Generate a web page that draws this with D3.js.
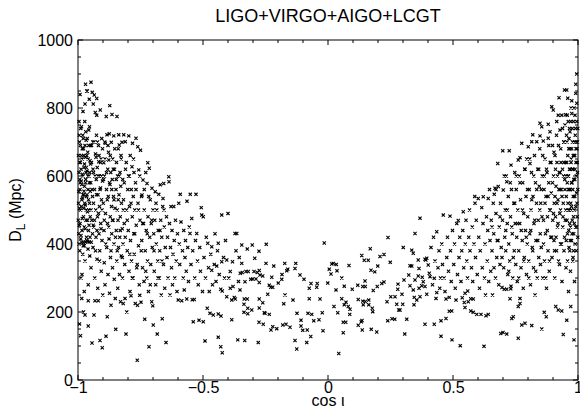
<!DOCTYPE html>
<html><head><meta charset="utf-8">
<script src="https://cdn.jsdelivr.net/npm/d3@7"></script>
<style>html,body{margin:0;padding:0;background:#fff;}svg{display:block;font-family:"Liberation Sans",Arial,sans-serif;}</style>
</head><body><div id="chart"></div>
<script>
const titleText = "LIGO+VIRGO+AIGO+LCGT";
const xTicks = [-1, -0.5, 0, 0.5, 1];
const xTickLabels = ["\u22121", "\u22120.5", "0", "0.5", "1"];
const yTicks = [0, 200, 400, 600, 800, 1000];
const yTickLabels = ["0", "200", "400", "600", "800", "1000"];

// [cos iota, D_L (Mpc)]
const edgeLeft = [[-0.998,520],[-0.996,610],[-0.995,455],[-0.994,700],[-0.993,380],[-0.992,560],[-0.991,640],[-0.99,500],[-0.989,740],[-0.988,425],[-0.987,585],[-0.986,660],[-0.985,530],[-0.984,310],[-0.983,475],[-0.982,605],[-0.981,720],[-0.98,545],[-0.979,395],[-0.978,680],[-0.977,505],[-0.976,625],[-0.975,450],[-0.974,570],[-0.973,760],[-0.972,350],[-0.971,515],[-0.97,655],[-0.969,590],[-0.968,470],[-0.967,705],[-0.966,540],[-0.965,410],[-0.964,615],[-0.963,850],[-0.962,495],[-0.961,670],[-0.96,560],[-0.959,280],[-0.958,440],[-0.957,735],[-0.956,600],[-0.955,826],[-0.954,520],[-0.953,365],[-0.952,645],[-0.951,480],[-0.95,690],[-0.994,165],[-0.99,130],[-0.985,240],[-0.978,200],[-0.97,870],[-0.948,876],[-0.965,850],[-0.972,812],[-0.98,790],[-0.992,840],[-0.996,760],[-0.988,300],[-0.975,260],[-0.985,405],[-0.978,405],[-0.97,406],[-0.962,407],[-0.955,406],[-0.947,405],[-0.959,233],[-0.972,191],[-0.959,159],[-0.997,430],[-0.993,590],[-0.983,680],[-0.977,545],[-0.967,625],[-0.957,500],
[-0.949,580],[-0.948,330],[-0.946,640],[-0.945,470],[-0.944,109],[-0.943,846],[-0.942,540],[-0.941,700],[-0.94,390],[-0.939,812],[-0.938,610],[-0.937,450],[-0.936,191],[-0.935,838],[-0.934,560],[-0.933,300],[-0.932,233],[-0.931,787],[-0.93,665],[-0.929,500],[-0.928,420],[-0.927,590],[-0.926,720],[-0.925,779],[-0.924,355],[-0.923,625],[-0.922,480],[-0.921,270],[-0.92,545],[-0.919,233],[-0.918,690],[-0.917,642],[-0.916,430],[-0.915,600],[-0.914,510],[-0.913,380],[-0.912,116],[-0.911,794],[-0.91,565],[-0.909,460],[-0.908,650],[-0.907,320],[-0.906,530],[-0.905,710],[-0.904,410],[-0.903,95],[-0.902,585],[-0.901,250],[-0.925,828],[-0.939,455],
[-0.899,520],[-0.897,639],[-0.896,440],[-0.895,345],[-0.894,600],[-0.893,700],[-0.892,280],[-0.891,696],[-0.89,490],[-0.888,129],[-0.887,775],[-0.886,560],[-0.885,390],[-0.884,721],[-0.883,186],[-0.882,460],[-0.881,620],[-0.88,310],[-0.879,540],[-0.878,670],[-0.877,647],[-0.876,415],[-0.875,724],[-0.874,255],[-0.873,807],[-0.872,575],[-0.871,480],[-0.87,360],[-0.869,610],[-0.868,220],[-0.867,699],[-0.866,510],[-0.865,430],[-0.864,781],[-0.863,590],[-0.862,330],[-0.861,650],[-0.86,470],[-0.858,540],[-0.857,718],[-0.856,400],[-0.855,296],[-0.854,620],[-0.852,505],[-0.851,240]];

const edgeLeftDense = [[-0.999,470],[-0.998,660],[-0.997,555],[-0.996,400],[-0.995,720],[-0.994,505],[-0.993,640],[-0.992,460],[-0.991,580],[-0.99,690],[-0.989,415],[-0.988,620],[-0.987,510],[-0.986,745],[-0.985,575],[-0.984,440],[-0.983,650],[-0.982,535],[-0.981,370],[-0.98,600],[-0.979,710],[-0.978,480],[-0.977,660],[-0.976,555],[-0.975,395],[-0.974,635],[-0.973,520],[-0.972,690],[-0.971,445],[-0.97,580],[-0.969,730],[-0.968,610],[-0.967,500],[-0.966,420],[-0.965,660],[-0.964,545],[-0.963,710],[-0.962,470],[-0.961,600],[-0.96,385],[-0.959,650],[-0.958,530],[-0.957,690],[-0.956,455],[-0.955,580],[-0.954,745],[-0.953,610],[-0.952,420],[-0.951,555],[-0.95,635],
[-0.948,500],[-0.946,690],[-0.944,560],[-0.942,430],[-0.94,620],[-0.938,520],[-0.936,700],[-0.934,470],[-0.932,600],[-0.93,380],[-0.928,655],[-0.926,545],[-0.924,440],[-0.922,700],[-0.92,600],[-0.918,490],[-0.916,660],[-0.914,350],[-0.912,560],[-0.91,640],[-0.908,445],[-0.906,600],[-0.904,500],[-0.902,680],
[-0.898,590],[-0.895,470],[-0.892,650],[-0.889,400],[-0.886,610],[-0.883,530],[-0.88,690],[-0.877,450],[-0.874,580],[-0.871,660],[-0.868,380],[-0.865,560],[-0.862,470],[-0.859,620],[-0.856,530],[-0.853,680],[-0.85,420],
[-0.847,590],[-0.843,380],[-0.839,530],[-0.835,600],[-0.831,440],[-0.827,650],[-0.823,360],[-0.819,500],[-0.815,580],[-0.811,420],[-0.807,640],[-0.803,470],
[-0.798,600],[-0.793,370],[-0.788,520],[-0.783,300],[-0.778,650],[-0.773,430],[-0.768,560],[-0.763,340],[-0.758,500],[-0.753,600],
[-0.747,380],[-0.741,460],[-0.735,560],[-0.729,320],[-0.723,430],[-0.717,540],[-0.711,280],[-0.705,470],
[-0.696,380],[-0.688,520],[-0.68,300],[-0.672,440],[-0.664,350],[-0.656,500]];

const wingLeft = [[-0.849,149],[-0.848,560],[-0.847,440],[-0.846,640],[-0.845,350],[-0.844,775],[-0.843,500],[-0.842,600],[-0.841,270],[-0.84,470],[-0.839,680],[-0.838,390],[-0.837,721],[-0.836,545],[-0.835,691],[-0.834,310],[-0.833,420],[-0.832,610],[-0.831,480],[-0.83,230],[-0.829,570],[-0.828,660],[-0.827,365],[-0.826,520],[-0.824,699],[-0.823,445],[-0.822,300],[-0.821,590],[-0.82,400],[-0.819,225],[-0.818,530],[-0.817,721],[-0.815,460],[-0.813,340],[-0.812,240],[-0.811,701],[-0.81,620],[-0.808,135],[-0.806,500],[-0.805,200],[-0.803,380],[-0.801,560],
[-0.799,440],[-0.797,718],[-0.796,320],[-0.795,600],[-0.794,510],[-0.792,260],[-0.791,660],[-0.79,410],[-0.788,248],[-0.787,560],[-0.786,350],[-0.784,627],[-0.783,480],[-0.782,696],[-0.78,300],[-0.779,540],[-0.777,430],[-0.776,610],[-0.775,370],[-0.773,500],[-0.771,225],[-0.77,580],[-0.768,711],[-0.767,455],[-0.765,330],[-0.763,58],[-0.762,220],[-0.761,686],[-0.76,520],[-0.758,395],[-0.757,618],[-0.755,280],[-0.753,249],[-0.752,470],[-0.75,676],
[-0.748,229],[-0.746,540],[-0.745,410],[-0.744,544],[-0.742,330],[-0.74,588],[-0.738,460],[-0.736,290],[-0.735,500],[-0.733,179],[-0.731,380],[-0.729,610],[-0.727,440],[-0.725,300],[-0.724,578],[-0.722,350],[-0.721,639],[-0.72,480],[-0.718,260],[-0.716,98],[-0.715,623],[-0.713,420],[-0.711,530],[-0.709,340],[-0.707,460],[-0.705,230],[-0.704,564],[-0.703,390],[-0.701,218],[-0.7,500],
[-0.699,162],[-0.697,430],[-0.695,320],[-0.693,470],[-0.691,554],[-0.689,280],[-0.687,400],[-0.685,500],[-0.683,135],[-0.681,350],[-0.679,440],[-0.677,546],[-0.675,300],[-0.673,380],[-0.671,574],[-0.669,470],[-0.667,250],[-0.665,420],[-0.663,180],[-0.661,510],[-0.66,534],[-0.658,340],[-0.657,578],[-0.655,450],[-0.653,270],[-0.651,390],
[-0.648,110],[-0.646,480],[-0.644,360],[-0.642,420],[-0.64,300],[-0.637,598],[-0.636,583],[-0.634,460],[-0.632,250],[-0.63,390],[-0.628,510],[-0.626,330],[-0.624,440],[-0.622,280],[-0.62,370],[-0.617,510],[-0.615,410],[-0.613,300],[-0.61,470],[-0.607,350],[-0.604,260],[-0.602,430],
[-0.599,235],[-0.597,520],[-0.595,400],[-0.593,340],[-0.591,546],[-0.588,465],[-0.585,233],[-0.582,380],[-0.579,300],[-0.577,440],[-0.575,265],[-0.572,360],[-0.57,410],[-0.567,320],[-0.565,238],[-0.564,526],[-0.561,390],[-0.558,290],[-0.555,450],[-0.552,431],
[-0.551,546],[-0.548,340],[-0.545,475],[-0.543,236],[-0.541,380],[-0.539,171],[-0.535,237],[-0.533,300],[-0.53,410],[-0.528,546],[-0.525,431],[-0.522,350],[-0.519,280],[-0.516,176],[-0.513,390],[-0.51,320],[-0.507,507],[-0.505,485],[-0.502,260],
[-0.499,171],[-0.499,480],[-0.496,360],[-0.492,115],[-0.49,300],[-0.487,420],[-0.483,211],[-0.481,402],[-0.478,330],[-0.475,260],[-0.472,196],[-0.469,370],[-0.465,392],[-0.465,323],[-0.462,280],[-0.459,191],[-0.455,340],[-0.452,430],
[-0.448,290],[-0.445,335],[-0.442,380],[-0.439,194],[-0.439,126],[-0.439,402],[-0.435,310],[-0.429,98],[-0.429,267],[-0.428,188],[-0.425,485],[-0.425,348],[-0.423,80],[-0.423,262],[-0.418,360],[-0.414,300],[-0.41,410],[-0.405,245],[-0.405,353],[-0.4,490],
[-0.397,300],[-0.391,270],[-0.391,319],[-0.385,177],[-0.385,235],[-0.382,348],[-0.38,275],[-0.375,243],[-0.372,431],[-0.371,238],[-0.368,380],[-0.365,431],[-0.361,118],[-0.358,290],[-0.355,360],[-0.351,314],[-0.345,343]];

const centre = [[-0.345,397],[-0.323,385],[-0.303,397],[-0.276,379],[-0.247,399],[-0.293,358],[-0.343,316],[-0.328,319],[-0.319,319],[-0.332,289],[-0.309,296],[-0.296,319],[-0.283,316],[-0.275,322],[-0.301,297],[-0.288,297],[-0.272,309],[-0.261,306],[-0.248,343],[-0.275,287],[-0.352,265],[-0.335,238],[-0.323,238],[-0.275,238],[-0.261,227],[-0.336,223],[-0.321,211],[-0.305,206],[-0.336,199],[-0.321,195],[-0.255,198],[-0.252,196],[-0.235,193],[-0.241,252],[-0.235,279],[-0.275,212],[-0.276,170],[-0.259,164],[-0.228,147],[-0.221,157],[-0.205,151],[-0.181,162],[-0.168,164],[-0.152,155],[-0.333,116],[-0.279,110],[-0.217,335],[-0.225,302],[-0.229,273],[-0.221,273],[-0.199,285],[-0.185,296],[-0.184,310],[-0.165,321],[-0.161,326],[-0.173,343],[-0.129,343],[-0.132,328],[-0.112,309],[-0.096,296],[-0.172,250],[-0.177,224],[-0.14,235],[-0.124,196],[-0.108,176],[-0.108,159],[-0.101,146],[-0.083,147],[-0.069,128],[-0.085,110],[-0.132,116],[-0.125,91],[-0.08,196],[-0.065,193],[-0.057,174],[-0.036,177],[-0.075,270],[-0.045,273],[-0.043,284],[-0.068,284],[-0.075,239],[-0.032,238],[-0.023,198],[-0.02,145],[-0.015,403],[-0.001,285],[0.005,326],[0.015,341],[0.021,343],[0.033,340],[0.036,321],[0.012,312],[0.032,265],[0.055,300],[0.055,239],[0.024,216],[0.039,198],[0.072,229],[0.065,221],[0.081,216],[0.088,208],[0.087,193],[0.061,170],[0.071,170],[0.061,139],[0.043,78],[0.065,276],[0.084,337],[0.097,267],[0.119,279],[0.121,237],[0.135,366],[0.145,352],[0.161,352],[0.169,386],[0.139,275],[0.149,275],[0.148,291],[0.139,232],[0.149,231],[0.163,235],[0.141,221],[0.163,221],[0.133,171],[0.121,161],[0.136,175],[0.137,147],[0.173,149],[0.195,141],[0.177,211],[0.179,201],[0.172,323],[0.187,318],[0.199,335],[0.181,263],[0.197,275],[0.208,363],[0.224,369],[0.249,346],[0.224,288],[0.215,284],[0.24,419],[0.236,230],[0.239,174],[0.256,180],[0.267,179],[0.251,245],[0.268,245],[0.275,223],[0.283,206],[0.288,206],[0.299,223],[0.279,267],[0.28,282],[0.296,252],[0.301,390],[0.304,294],[0.307,135],[0.315,179],[0.323,309],[0.328,336]];

const wingRight = [[0.328,277],[0.335,335],[0.335,382],[0.341,265],[0.341,373],[0.344,221],[0.345,243],[0.348,294],[0.348,431],[0.355,235],[0.361,306],[0.361,353],[0.364,270],[0.364,328],[0.368,245],[0.368,476],[0.375,277],[0.377,302],[0.381,289],[0.388,164],[0.388,275],[0.388,355],[0.391,353],[0.395,252],[0.395,358],
[0.401,338],[0.405,314],[0.408,304],[0.412,390],[0.418,280],[0.422,420],[0.425,164],[0.425,299],[0.428,350],[0.432,240],[0.435,257],[0.435,436],[0.44,330],[0.444,380],[0.447,270],[0.45,300],
[0.452,174],[0.452,129],[0.455,400],[0.458,340],[0.461,485],[0.464,300],[0.468,260],[0.472,181],[0.472,238],[0.475,360],[0.478,420],[0.482,320],[0.485,202],[0.485,243],[0.488,482],[0.49,380],[0.493,290],[0.495,203],[0.496,118],[0.498,440],
[0.503,340],[0.506,400],[0.509,270],[0.512,235],[0.515,460],[0.518,310],[0.521,469],[0.524,360],[0.527,420],[0.529,101],[0.532,290],[0.535,380],[0.537,242],[0.539,440],[0.541,495],[0.543,330],[0.545,228],[0.548,213],[0.548,255],[0.549,400],
[0.552,470],[0.555,350],[0.558,300],[0.559,262],[0.561,230],[0.563,420],[0.566,500],[0.568,380],[0.571,203],[0.571,239],[0.574,330],[0.577,450],[0.579,290],[0.581,199],[0.581,238],[0.584,400],[0.587,540],[0.588,520],[0.59,360],[0.593,470],[0.595,193],[0.597,310],
[0.601,534],[0.603,420],[0.606,270],[0.609,380],[0.612,193],[0.615,507],[0.617,330],[0.62,460],[0.621,539],[0.624,99],[0.626,300],[0.628,400],[0.63,250],[0.632,189],[0.634,480],[0.637,350],[0.639,440],[0.641,193],[0.641,534],[0.643,290],[0.646,560],[0.648,410],
[0.651,320],[0.653,470],[0.656,380],[0.658,250],[0.661,520],[0.663,430],[0.665,546],[0.668,564],[0.67,300],[0.672,490],[0.675,360],[0.677,410],[0.679,637],[0.681,569],[0.683,280],[0.685,450],[0.688,340],[0.69,520],[0.691,137],[0.693,390],[0.696,272],[0.698,470],[0.699,674],[0.7,140],
[0.701,559],[0.703,330],[0.705,267],[0.707,420],[0.709,500],[0.711,380],[0.713,600],[0.715,135],[0.715,267],[0.715,583],[0.717,460],[0.719,310],[0.721,540],[0.723,400],[0.725,674],[0.727,350],[0.728,239],[0.73,480],[0.731,268],[0.732,276],[0.732,632],[0.734,560],[0.735,181],[0.737,430],[0.739,300],[0.741,186],[0.743,520],[0.745,380],[0.747,610],[0.749,460],
[0.751,340],[0.753,560],[0.755,420],[0.757,290],[0.759,500],[0.761,123],[0.761,216],[0.761,647],[0.763,380],[0.765,600],[0.767,460],[0.768,225],[0.768,240],[0.768,654],[0.77,530],[0.772,330],[0.775,696],[0.775,162],[0.777,410],[0.779,580],[0.781,270],[0.783,490],[0.785,360],[0.787,620],[0.788,167],[0.79,440],[0.792,540],[0.794,310],[0.795,650],[0.797,400],[0.799,480],
[0.801,686],[0.803,350],[0.805,560],[0.807,430],[0.808,637],[0.81,280],[0.812,500],[0.814,610],[0.815,160],[0.815,701],[0.817,390],[0.819,721],[0.82,540],[0.822,330],[0.824,460],[0.826,660],[0.828,250],[0.83,580],[0.832,410],[0.834,520],[0.835,701],[0.837,300],[0.839,620],[0.841,470],[0.843,360],[0.845,570],[0.847,680],[0.848,718],[0.849,430],[0.848,755]];

const edgeRight = [[0.851,520],[0.853,390],[0.855,150],[0.855,745],[0.857,600],[0.859,300],[0.861,703],[0.862,470],[0.864,560],[0.865,199],[0.866,350],[0.868,650],[0.87,430],[0.872,540],[0.873,186],[0.874,270],[0.876,610],[0.878,480],[0.88,380],[0.881,711],[0.881,752],[0.883,580],[0.885,320],[0.887,500],[0.888,730],[0.889,640],[0.891,420],[0.893,550],[0.895,804],[0.896,360],[0.898,690],[0.899,470],
[0.901,794],[0.902,600],[0.904,410],[0.905,520],[0.907,300],[0.908,660],[0.91,480],[0.911,216],[0.912,570],[0.914,380],[0.915,760],[0.916,640],[0.918,450],[0.92,530],[0.921,206],[0.921,779],[0.922,350],[0.924,830],[0.925,610],[0.927,490],[0.928,735],[0.93,400],[0.931,680],[0.933,560],[0.935,203],[0.935,779],[0.936,290],[0.938,620],[0.939,450],[0.941,134],[0.941,520],[0.943,700],[0.944,380],[0.946,853],[0.947,590],[0.948,750],[0.949,470],
[0.951,640],[0.952,330],[0.953,540],[0.955,176],[0.955,853],[0.956,700],[0.957,779],[0.958,430],[0.959,829],[0.96,600],[0.961,500],[0.962,260],[0.963,680],[0.964,390],[0.965,560],[0.966,740],[0.967,460],[0.968,730],[0.969,620],[0.97,320],[0.971,216],[0.971,520],[0.972,800],[0.973,650],[0.974,410],[0.975,821],[0.975,784],[0.976,580],[0.977,470],[0.978,700],[0.979,350],[0.98,620],[0.981,540],[0.982,760],[0.983,430],[0.984,118],[0.984,660],[0.985,500],[0.986,290],[0.987,590],[0.988,779],[0.989,720],[0.99,450],[0.991,843],[0.991,870],[0.992,640],[0.993,380],[0.994,550],[0.995,814],[0.995,900],[0.996,680],[0.997,480],[0.998,610],[0.999,740],[0.999,420],[0.962,560],[0.974,510],[0.987,660],[0.993,700],[0.969,410],[0.982,380],[0.944,640],[0.928,560]];

const edgeRightDense = [[0.999,560],[0.998,700],[0.997,640],[0.996,520],[0.995,760],[0.994,450],[0.993,600],[0.992,680],[0.991,510],[0.99,740],[0.989,400],[0.988,620],[0.987,540],[0.986,700],[0.985,460],[0.984,800],[0.983,590],[0.982,480],[0.981,660],[0.98,360],[0.979,560],[0.978,620],[0.977,740],[0.976,430],[0.975,680],[0.974,580],[0.973,500],[0.972,640],[0.971,760],[0.97,450],[0.969,560],[0.968,680],[0.967,380],[0.966,620],[0.965,500],[0.964,710],[0.963,440],[0.962,600],[0.961,760],[0.96,520],[0.959,660],[0.958,350],[0.957,580],[0.956,470],[0.955,640],[0.954,720],[0.953,410],[0.952,600],[0.951,500],[0.95,780],
[0.948,560],[0.946,420],[0.944,700],[0.942,600],[0.94,480],[0.938,740],[0.936,540],[0.934,400],[0.932,640],[0.93,500],[0.928,610],[0.926,340],[0.924,560],[0.922,690],[0.92,460],[0.918,600],[0.916,520],[0.914,720],[0.912,420],[0.91,620],[0.908,540],[0.906,380],[0.904,670],[0.902,490],
[0.898,580],[0.895,420],[0.892,640],[0.889,500],[0.886,350],[0.883,690],[0.88,540],[0.877,440],[0.874,620],[0.871,300],[0.868,520],[0.865,600],[0.862,400],[0.859,660],[0.856,480],[0.853,560],[0.85,340],
[0.847,500],[0.843,620],[0.839,410],[0.835,560],[0.831,320],[0.827,470],[0.823,600],[0.819,380],[0.815,530],[0.811,440],[0.807,650],[0.803,300],
[0.798,560],[0.793,420],[0.788,620],[0.783,350],[0.778,500],[0.773,440],[0.768,580],[0.763,300],[0.758,460],[0.753,600],
[0.747,520],[0.741,360],[0.735,450],[0.729,580],[0.723,320],[0.717,500],[0.711,440],[0.705,600],
[0.696,360],[0.688,480],[0.68,410],[0.672,560],[0.664,330],[0.656,450]];

const points = [].concat(edgeLeft, edgeLeftDense, wingLeft, centre, wingRight, edgeRight, edgeRightDense);

const W = 580, H = 410;
const m = {left: 78, right: 578, top: 40, bottom: 380};
const FONT = '"Liberation Sans",Arial,sans-serif';

const svg = d3.select("#chart").append("svg").attr("width", W).attr("height", H);

const x = d3.scaleLinear().domain([-1, 1]).range([m.left, m.right]);
const y = d3.scaleLinear().domain([0, 1000]).range([m.bottom, m.top]);

// points
const mk = 1.6;
svg.append("g").selectAll("path").data(points).join("path")
  .attr("transform", d => `translate(${x(d[0])},${y(d[1])})`)
  .attr("d", `M${-mk},${-mk}L${mk},${mk}M${-mk},${mk}L${mk},${-mk}`)
  .attr("stroke", "#000").attr("stroke-width", 1.1).attr("fill", "none");

// frame
svg.append("rect").attr("x", m.left).attr("y", m.top)
  .attr("width", m.right - m.left).attr("height", m.bottom - m.top)
  .attr("fill", "none").attr("stroke", "#000").attr("stroke-width", 1);

// ticks (inward, all four sides)
const xMinor = d3.range(-10, 11).map(i => i / 10);
const yMinor = d3.range(0, 21).map(i => i * 50);
const tk = svg.append("g").attr("stroke", "#000").attr("stroke-width", 1);
xMinor.forEach(v => {
  const major = xTicks.some(t => Math.abs(t - v) < 1e-9);
  const L = major ? 5 : 3;
  tk.append("line").attr("x1", x(v)).attr("x2", x(v)).attr("y1", m.bottom).attr("y2", m.bottom - L);
  tk.append("line").attr("x1", x(v)).attr("x2", x(v)).attr("y1", m.top).attr("y2", m.top + L);
});
yMinor.forEach(v => {
  const major = yTicks.includes(v);
  const L = major ? 5 : 3;
  tk.append("line").attr("y1", y(v)).attr("y2", y(v)).attr("x1", m.left).attr("x2", m.left + L);
  tk.append("line").attr("y1", y(v)).attr("y2", y(v)).attr("x1", m.right).attr("x2", m.right - L);
});

const xAxis = d3.axisBottom(x).tickValues(xTicks).tickSize(0).tickPadding(2)
  .tickFormat((d, i) => xTickLabels[i]);
const gx = svg.append("g").attr("transform", `translate(0,${m.bottom})`).call(xAxis);
gx.select(".domain").remove();
gx.selectAll("text").attr("font-size", 16).attr("fill", "#000").attr("font-family", FONT);

const yAxis = d3.axisLeft(y).tickValues(yTicks).tickSize(0).tickPadding(5)
  .tickFormat((d, i) => yTickLabels[i]);
const gy = svg.append("g").attr("transform", `translate(${m.left},0)`).call(yAxis);
gy.select(".domain").remove();
gy.selectAll("text").attr("font-size", 16).attr("fill", "#000").attr("font-family", FONT);

// title
svg.append("text").attr("x", (m.left + m.right) / 2).attr("y", 22)
  .attr("text-anchor", "middle").attr("font-size", 18).text(titleText);

// x label
svg.append("text").attr("x", (m.left + m.right) / 2).attr("y", 406)
  .attr("text-anchor", "middle").attr("font-size", 16).text("cos \u03B9");

// y label
const yl = svg.append("text").attr("transform", `translate(21,${(m.top + m.bottom) / 2}) rotate(-90)`)
  .attr("text-anchor", "middle").attr("font-size", 16);
yl.append("tspan").text("D");
yl.append("tspan").attr("font-size", 12).attr("dy", 4).text("L");
yl.append("tspan").attr("dy", -4).text(" (Mpc)");
</script>
</body></html>
